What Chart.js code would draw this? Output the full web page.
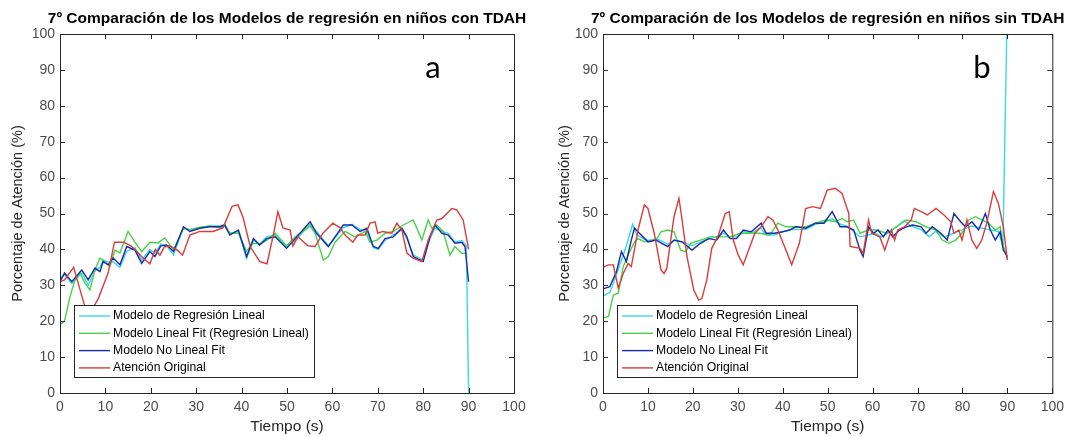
<!DOCTYPE html>
<html>
<head>
<meta charset="utf-8">
<script src="https://cdn.jsdelivr.net/npm/chart.js@4.4.1/dist/chart.umd.min.js"></script>
<style>
  html, body { margin: 0; padding: 0; background: #fff; }
  #wrap { position: relative; width: 1070px; height: 436px; }
  .panel { position: absolute; top: 0; width: 535px; height: 436px; }
</style>
</head>
<body>
<div id="wrap">
  <div class="panel" style="left:0"><canvas id="chartA" width="535" height="436"></canvas></div>
  <div class="panel" style="left:535px"><canvas id="chartB" width="535" height="436"></canvas></div>
</div>
<script>
// series labels and tick values
const seriesLabels = ['Modelo de Regresión Lineal', 'Modelo Lineal Fit (Regresión Lineal)', 'Modelo No Lineal Fit', 'Atención Original'];
const seriesColors = ['#3ad8e8', '#4ad24a', '#1a2aa8', '#d83c3c'];
const xTicks = [0, 10, 20, 30, 40, 50, 60, 70, 80, 90, 100];
const yTicks = [0, 10, 20, 30, 40, 50, 60, 70, 80, 90, 100];

// ---- panel a: niños con TDAH ----
const tA_cyan = [0, 1, 2.6, 4.8, 6.2, 7.7, 8.8, 9.5, 10.6, 11.7, 13.2, 14.7, 16.5, 18, 19.8, 20.9, 22.2, 23.5, 25, 27.2, 28.6, 30.8, 33, 35.2, 36.3, 37.4, 39.3, 41.1, 42.6, 44, 45.5, 47.4, 49.9, 51.8, 55.1, 56.5, 59.1, 62.4, 64.3, 66.1, 67.6, 69, 70.1, 71.6, 73.4, 75.3, 76.4, 77.8, 80, 81.5, 82.6, 84.1, 85.5, 87, 88.5, 89.5, 90];
const vA_cyan = [32, 33, 30.5, 33.5, 30, 34, 35, 37, 36.5, 36.5, 35, 39.5, 40.5, 37, 40, 39, 41.5, 41, 38.5, 46, 45.5, 46, 46.5, 46.5, 47, 44.5, 45, 37.5, 42.5, 41.5, 43.5, 44, 40.5, 42.5, 47, 45, 41, 46, 47, 45.5, 45, 40.5, 40, 42.5, 44, 45.5, 43, 38.5, 37, 43, 46, 45, 44.5, 42, 42.5, 41, 0];

const tA_green = [0, 1, 2.2, 3.3, 4.4, 5.5, 6.6, 7.7, 8.8, 9.9, 11, 12.1, 13.2, 15, 16.5, 18, 19.8, 21.6, 23.1, 25, 27.2, 28.6, 30.8, 33, 35.2, 36.3, 37.4, 39.3, 41.1, 42.5, 44, 45.5, 47.4, 49.9, 51.8, 55.1, 56.2, 58, 59.1, 60.6, 62.8, 65, 67.2, 68.3, 69.8, 71.6, 73.4, 75.6, 77.8, 79.7, 81.1, 81.9, 83, 84.4, 85.9, 87, 88.5, 89.6];
const vA_green = [19, 20, 26.8, 31.5, 33.4, 30.6, 28.7, 34.3, 37.6, 36.6, 35.2, 39.8, 39, 45, 42, 39.4, 42, 41.8, 43.2, 39.8, 45.8, 45.5, 46.2, 46.5, 46, 46.5, 44.5, 44.5, 39.5, 41.7, 41.5, 42.5, 44.5, 41, 43.5, 46.5, 44.5, 37, 38, 42, 45, 43.5, 45, 42, 42.6, 44.5, 45, 46.8, 48.2, 42.6, 48.2, 45.9, 46.8, 45, 38.4, 40.8, 38.9, 38.9];

const tA_blue = [0, 1, 2.6, 4.8, 6.2, 7.7, 8.8, 9.5, 10.6, 11.7, 13.2, 14.7, 16.5, 18, 19.8, 20.9, 22.2, 23.5, 25, 27.2, 28.6, 30.8, 33, 35.2, 36.3, 37.4, 39.3, 41.1, 42.6, 44, 45.5, 47.4, 49.9, 51.8, 55.1, 56.5, 59.1, 62.4, 64.3, 66.1, 67.6, 69, 70.1, 71.6, 73.4, 75.3, 76.4, 77.8, 80, 81.5, 82.6, 84.1, 85.5, 87, 88.5, 89.2, 90];
const vA_blue = [31, 33.4, 31, 34.3, 31.5, 34.8, 33.8, 36.6, 35.7, 37.6, 35.7, 40.8, 39.8, 36.1, 39.4, 38, 41, 41.2, 39.4, 46.3, 45, 45.9, 46.3, 46.3, 46.8, 44, 45.4, 38, 43, 41.2, 43, 43.5, 40.3, 43, 47.7, 44.5, 40.8, 46.8, 46.8, 45, 45.9, 40.8, 40.3, 43, 43.5, 45.9, 43.5, 38, 36.6, 43.5, 46.8, 44.5, 44, 41.7, 42, 40.8, 31];

const tA_red = [0, 1, 3, 5.5, 7, 8.5, 10, 10.6, 12, 14, 15.6, 16.5, 18.3, 19.8, 21, 22, 23, 24.2, 25.8, 27, 28.6, 30.8, 33.7, 35.9, 37.9, 39.2, 40.3, 41.9, 44, 45.6, 46.9, 48, 49.1, 50.7, 51.3, 52.4, 54.6, 56.2, 57.9, 60.1, 61.7, 62.8, 64.5, 65.6, 67.2, 68.3, 69.4, 70, 71.1, 73.1, 74.2, 75.3, 76.4, 77.8, 79.7, 81.1, 83, 84.1, 86.3, 87.4, 88.8, 90];
const vA_red = [31, 31.5, 35, 24, 23, 26.5, 31.5, 33.4, 42, 42, 41, 40, 37.6, 36, 40, 38.4, 40.7, 41, 39.8, 38.4, 44, 45, 45, 46, 52, 52.4, 49, 40.8, 36.6, 36, 43.5, 50.5, 46, 45.4, 41, 43.5, 41, 40.8, 44.5, 47.3, 46, 44, 42, 44, 44, 47.3, 47.7, 44.5, 45, 44.5, 47.3, 45.4, 39, 37.6, 36.6, 42.6, 48.2, 48.6, 51.4, 51, 48.2, 40];

// ---- panel b: niños sin TDAH ----
const tB_cyan = [0, 1.5, 3, 4.1, 5.2, 6.6, 7.5, 9, 10, 12, 14.4, 16, 18, 19.8, 21.7, 23.5, 25.3, 26.8, 28.3, 30, 31.2, 33, 35, 36.3, 38.2, 40, 42, 45, 47.3, 49, 51, 52.8, 54.3, 55.8, 57.2, 59, 60.5, 62, 64, 65, 67, 68.5, 70.8, 72.6, 74, 76, 78, 80, 82, 84, 86, 88, 89, 90];
const vB_cyan = [27, 28, 33, 37, 41, 47, 44, 43, 42.5, 43, 41.5, 42.5, 42, 41, 42, 43, 43.5, 44.5, 43.5, 43.5, 45, 44.5, 46, 44, 44, 45, 45.5, 45.5, 47, 47.5, 48.5, 47, 46.5, 45, 43.5, 44, 44.5, 43.5, 45, 46, 48, 46.5, 45.5, 43.5, 45, 43.5, 44.5, 45.5, 46.5, 46, 45.5, 45, 41, 110];

const tB_green = [0, 1.2, 2.3, 3.4, 4.5, 5.6, 7, 7.8, 9.2, 11.8, 12.9, 14.4, 15.8, 17.3, 18.4, 19.5, 21.7, 23.9, 26.1, 28.3, 30.5, 32.7, 34.9, 37.1, 38.9, 40.7, 42.9, 45.1, 47.3, 49.5, 51.7, 53.2, 54.3, 55.8, 57.2, 59.1, 60.8, 63.1, 65.3, 67.5, 69.7, 71.9, 74.1, 75.5, 77, 78.5, 79.9, 81.4, 82.9, 84.3, 85.8, 87.3, 88.4, 89.1, 90];
const vB_green = [21, 21.3, 27.3, 27.8, 35.2, 38.4, 42.1, 43, 42.1, 42.6, 44.9, 45.4, 44.9, 39.8, 39.4, 41.7, 42.6, 43.5, 43.5, 43.5, 44.5, 44.5, 44.5, 44, 47.3, 46.3, 46.3, 46.3, 47.3, 48.2, 47.7, 48.6, 47.7, 48.2, 44.5, 45.4, 45.4, 44.5, 46.3, 48.2, 47.7, 46.3, 45.4, 42.6, 41.7, 42.6, 44.5, 48.2, 49.1, 48.2, 47.3, 45.4, 46.3, 40.8, 37.5];

const tB_blue = [0, 1.5, 3, 4.1, 5.2, 6.3, 7, 8.5, 10, 11.8, 14.4, 15.8, 17.6, 19.8, 21.7, 23.5, 25.3, 26.8, 28.3, 29.7, 31.2, 33, 35.2, 36.3, 38.2, 40, 41.5, 42.9, 45.1, 47.3, 49.2, 51, 52.8, 54.3, 55.8, 57.2, 57.9, 59.1, 60.2, 61.2, 62.4, 63.4, 64.5, 66, 67.5, 68.9, 70.8, 71.9, 73.3, 75.2, 76.6, 78.1, 79.6, 80.7, 82.1, 83.6, 85.1, 86.2, 87.3, 88.4, 89.1, 90];
const vB_blue = [29, 29.6, 33.8, 39.4, 36.6, 42.6, 45.9, 44, 42.1, 42.6, 40.8, 42.6, 42.1, 39.8, 41.7, 43, 42.6, 45.4, 43, 43, 45.4, 44.9, 47.3, 44.5, 44.5, 44.9, 45.4, 46.3, 45.9, 47.3, 47.3, 50.5, 46.3, 46.3, 45.4, 39.8, 38, 46.3, 44.5, 45.4, 43.5, 45.4, 43.5, 45.4, 46.3, 46.8, 46.3, 44.5, 46.3, 44.5, 42.6, 50, 47.7, 46.3, 47.7, 45.4, 50, 45.4, 42.6, 44.9, 39.8, 38];

const tB_red = [0, 1.2, 2.3, 3.4, 4.5, 5.6, 6.3, 7.8, 9.2, 10, 11.4, 12.9, 13.6, 14.2, 15.8, 16.9, 17.4, 18.7, 20.2, 21.3, 22, 23.1, 24.2, 25.7, 27.2, 28.1, 29, 30.1, 31.2, 32.3, 33.8, 35.2, 36.7, 37.8, 38.9, 40.4, 42, 43.7, 45.1, 46.6, 48.4, 49.9, 51.7, 53.2, 54.7, 55, 57.2, 57.9, 59.1, 59.8, 61.6, 62.7, 64.2, 64.9, 65.6, 67.1, 68.6, 69.3, 70.8, 72.2, 74.1, 75.9, 77.4, 78.1, 79.2, 79.9, 81, 82.1, 83.2, 84.3, 85.4, 86.9, 88, 89.1, 90];
const vB_red = [35, 35.7, 35.7, 29.2, 33.3, 36.1, 35.2, 45.4, 52.4, 51.4, 44.5, 34.3, 33.3, 34.7, 49.1, 54.2, 50, 38, 28.7, 25.9, 26.3, 31.5, 40.3, 44, 50, 50.5, 42.6, 38.4, 35.7, 39.4, 44.5, 46.3, 49.1, 48.2, 45.4, 40.8, 35.7, 41.7, 51.4, 51.9, 51.4, 56.5, 57, 55.6, 50, 40.8, 40.3, 38.9, 48.2, 44.5, 43.5, 39.8, 45.4, 42.6, 45.4, 46.3, 48.2, 51.4, 50.5, 49.6, 51.4, 49.6, 47.7, 44.5, 45.4, 42.6, 48.2, 42.6, 40.3, 42.6, 47.3, 56.1, 52.8, 46.3, 37];

function pts(ts, vs) {
  return ts.map((t, i) => ({ x: t, y: vs[i] }));
}

// box, inward ticks, legend, title and panel letter, MATLAB style
const matlabLook = {
  id: 'matlabLook',
  afterDraw(chart, args, o) {
    const { ctx, chartArea: a, scales } = chart;
    ctx.save();
    ctx.strokeStyle = '#262626';
    ctx.lineWidth = 1;
    ctx.strokeRect(a.left + 0.5, a.top + 0.5, a.right - a.left, a.bottom - a.top);
    ctx.beginPath();
    const tl = 5;
    xTicks.forEach(v => {
      const x = Math.round(scales.x.getPixelForValue(v)) + 0.5;
      ctx.moveTo(x, a.bottom); ctx.lineTo(x, a.bottom - tl);
      ctx.moveTo(x, a.top); ctx.lineTo(x, a.top + tl);
    });
    yTicks.forEach(v => {
      const y = Math.round(scales.y.getPixelForValue(v)) + 0.5;
      ctx.moveTo(a.left, y); ctx.lineTo(a.left + tl, y);
      ctx.moveTo(a.right, y); ctx.lineTo(a.right - tl, y);
    });
    ctx.stroke();

    // title
    ctx.fillStyle = '#000';
    ctx.font = 'bold 15.5px "Liberation Sans", Arial, sans-serif';
    ctx.textAlign = 'center';
    ctx.textBaseline = 'middle';
    ctx.fillText(o.title, (a.left + a.right) / 2, 19);

    // panel letter
    ctx.font = '31px Lato, "Open Sans", sans-serif';
    ctx.textBaseline = 'alphabetic';
    ctx.fillText(o.letter, a.left + o.letterX, 78);

    // legend
    const lx = a.left + 14, ly = 305, lw = 240, lh = 72;
    ctx.fillStyle = '#fff';
    ctx.fillRect(lx, ly, lw, lh);
    ctx.strokeStyle = '#262626';
    ctx.strokeRect(lx + 0.5, ly + 0.5, lw, lh);
    ctx.font = '12.2px "Liberation Sans", Arial, sans-serif';
    ctx.textAlign = 'left';
    ctx.textBaseline = 'middle';
    chart.data.datasets.forEach((ds, i) => {
      const y = ly + 11 + i * 17.3;
      ctx.strokeStyle = ds.borderColor;
      ctx.lineWidth = 1.4;
      ctx.beginPath();
      ctx.moveTo(lx + 5, y); ctx.lineTo(lx + 36, y);
      ctx.stroke();
      ctx.fillStyle = '#000';
      ctx.fillText(ds.label, lx + 39, y);
    });
    ctx.restore();
  }
};

function makeChart(id, title, letter, letterX, yWidth, padRight, yTitlePad, series) {
  const datasets = series.map((s, i) => ({
    label: seriesLabels[i],
    data: s,
    borderColor: seriesColors[i],
    borderWidth: 1.4,
    pointRadius: 0,
    tension: 0,
    fill: false,
    order: 3 - i
  }));
  return new Chart(document.getElementById(id), {
    type: 'line',
    data: { datasets },
    plugins: [matlabLook],
    options: {
      responsive: false,
      animation: false,
      layout: { padding: { top: 34, right: padRight, bottom: 0, left: 0 } },
      plugins: {
        legend: { display: false },
        tooltip: { enabled: false },
        matlabLook: { title, letter, letterX }
      },
      scales: {
        x: {
          type: 'linear', min: 0, max: 100,
          afterBuildTicks: s => { s.ticks = xTicks.map(v => ({ value: v })); },
          afterFit: s => { s.height = 43; },
          grid: { display: false, drawTicks: false },
          border: { display: false },
          ticks: { color: '#4d4d4d', padding: 6, maxRotation: 0, font: { family: '"Liberation Sans", Arial', size: 14 } },
          title: { display: true, text: 'Tiempo (s)', color: '#262626', padding: { top: 0, bottom: 0 }, font: { family: '"Liberation Sans", Arial', size: 15.5 } }
        },
        y: {
          type: 'linear', min: 0, max: 100,
          afterBuildTicks: s => { s.ticks = yTicks.map(v => ({ value: v })); },
          afterFit: s => { s.width = yWidth; },
          grid: { display: false, drawTicks: false },
          border: { display: false },
          ticks: { color: '#4d4d4d', padding: 5, font: { family: '"Liberation Sans", Arial', size: 14 } },
          title: { display: true, text: 'Porcentaje de Atención (%)', color: '#262626', padding: { top: yTitlePad, bottom: 0 }, font: { family: '"Liberation Sans", Arial', size: 14.5 } }
        }
      }
    }
  });
}

makeChart('chartA', '7º Comparación de los Modelos de regresión en niños con TDAH', 'a', 373, 60, 21, 9,
  [pts(tA_cyan, vA_cyan), pts(tA_green, vA_green), pts(tA_blue, vA_blue), pts(tA_red, vA_red)]);
makeChart('chartB', '7º Comparación de los Modelos de regresión en niños sin TDAH', 'b', 379, 68, 12, 21,
  [pts(tB_cyan, vB_cyan), pts(tB_green, vB_green), pts(tB_blue, vB_blue), pts(tB_red, vB_red)]);
</script>
</body>
</html>
